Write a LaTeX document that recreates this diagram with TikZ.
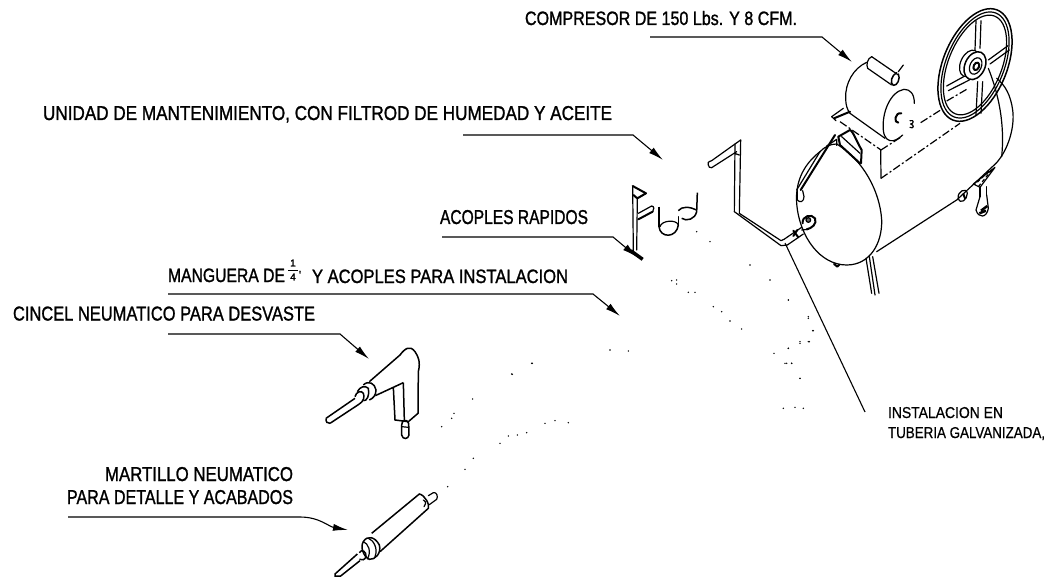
\documentclass[tikz,border=0pt]{standalone}
\usepackage{fontspec}
\usepackage{graphicx}
\setmainfont{Liberation Sans}
\newfontfamily\labfont[FakeBold=1.4]{Liberation Sans}
\newfontfamily\smallfont[FakeBold=0.7]{Liberation Sans}
\usetikzlibrary{arrows.meta}
\newcommand{\lab}[6]{\node[anchor=base west,inner sep=0pt,outer sep=0pt] (#1) at (#2,#3) {\resizebox{#4pt}{#5pt}{\labfont #6}};}
\newcommand{\thinlab}[6]{\node[anchor=base west,inner sep=0pt,outer sep=0pt] (#1) at (#2,#3) {\resizebox{#4pt}{#5pt}{\smallfont #6}};}
\tikzset{
  leader/.style={line width=1.1pt,black,-{Latex[length=15pt,width=7pt]}},
  part/.style={line width=1.2pt,black,line join=round,line cap=round},
  thickpart/.style={line width=2pt,black,line cap=round,line join=round},
  dashpart/.style={line width=1.2pt,black,dash pattern=on 8pt off 2.5pt on 2pt off 2.5pt},
  callout/.style={line width=1.1pt,black}
}
\begin{document}
\begin{tikzpicture}[x=1pt,y=-1pt]
\useasboundingbox (0,0) rectangle (1051,577);
% labels
\lab{tcomp}{525}{25}{272}{14}{COMPRESOR DE 150 Lbs. Y 8 CFM.}
\lab{tunid}{43}{120}{569}{14}{UNIDAD DE MANTENIMIENTO, CON FILTROD DE HUMEDAD Y ACEITE}
\lab{tacop}{440}{224}{148}{14}{ACOPLES RAPIDOS}
\lab{tmang}{168}{282}{117}{13.5}{MANGUERA DE}
\node[inner sep=0pt,font=\labfont\fontsize{10}{10}\selectfont] (tfa) at (293,263) {1};
\node[inner sep=0pt,font=\labfont\fontsize{10}{10}\selectfont] (tfb) at (293,277) {4};
\node[inner sep=0pt,font=\labfont\fontsize{12}{12}\selectfont] (tfc) at (300,275) {'};
\draw[line width=0.9pt] (288,270) -- (298,270);
\lab{tman2}{312}{283}{256}{13.5}{Y ACOPLES PARA INSTALACION}
\lab{tcinc}{13}{320.5}{302}{14}{CINCEL NEUMATICO PARA DESVASTE}
\lab{tmart}{105}{481}{188}{14}{MARTILLO NEUMATICO}
\lab{tpara}{67}{504}{226}{14}{PARA DETALLE Y ACABADOS}
\thinlab{tins}{888}{418}{115}{11}{INSTALACION EN}
\thinlab{ttub}{888}{438}{157}{11}{TUBERIA GALVANIZADA,}
% leaders
\coordinate (l1a) at (650,37); \coordinate (l1b) at (822,37); \coordinate (l1c) at (852,62);
\draw[leader] (l1a) -- (l1b) -- (l1c);
\coordinate (l2a) at (463,135); \coordinate (l2b) at (633,135); \coordinate (l2c) at (663,160);
\draw[leader] (l2a) -- (l2b) -- (l2c);
\coordinate (l3a) at (442,237); \coordinate (l3b) at (613,237); \coordinate (l3c) at (637,257);
\draw[leader] (l3a) -- (l3b) -- (l3c);
\coordinate (l4a) at (168,294); \coordinate (l4b) at (593,294); \coordinate (l4c) at (620,316);
\draw[leader] (l4a) -- (l4b) -- (l4c);
\coordinate (l5a) at (168,334); \coordinate (l5b) at (340,334); \coordinate (l5c) at (369,359);
\draw[leader] (l5a) -- (l5b) -- (l5c);
\coordinate (l6a) at (68,517); \coordinate (l6b) at (300,517); \coordinate (l6c) at (348,530);
\draw[leader] (l6a) -- (l6b) to[out=0,in=170] (l6c);
\coordinate (l7a) at (785,243); \coordinate (l7b) at (865,412);
\draw[callout] (l7a) -- (l7b);

% compressor and tank (zoom coordinates)
\begin{scope}[shift={(680,0)},x=0.33333pt,y=-0.33333pt]
  % tank body
  \draw[part] (420,455) .. controls (375,490) and (345,540) .. (350,610)
     .. controls (358,710) and (420,795) .. (500,795)
     .. controls (570,795) and (607,730) .. (605,660)
     .. controls (600,575) and (550,480) .. (470,432);
  \draw[part] (420,455) .. controls (435,440) and (450,432) .. (470,432);
  \draw[part] (590,755) -- (830,600) -- (948,490);
  \draw[part] (948,490) .. controls (985,450) and (1005,380) .. (998,330) .. controls (992,285) and (975,255) .. (950,235);
  \draw[part] (925,205) .. controls (955,280) and (975,370) .. (965,470);
  % base plate
  \draw[dashpart] (603,535) -- (840,370);
  \draw[dashpart] (603,450) -- (665,410);
  \draw[dashpart] (480,365) -- (603,450);
  \draw[part] (602,450) -- (603,535);
  \draw[part] (455,350) -- (490,325);
  \draw[part] (455,350) -- (468,362);
  % pipe on head
  \draw[thickpart] (362,570) -- (465,405);
  \draw[part] (350,570) -- (420,455);
  \draw[part] (352,572) -- (352,600) .. controls (360,610) and (372,605) .. (372,590) -- (368,572);
  \draw[part] (440,438) -- (470,418) -- (470,436);
  \draw[thickpart] (462,355) -- (510,335);
  % bracket
  \draw[thickpart] (475,410) -- (510,390) .. controls (520,395) and (530,425) .. (545,450) -- (543,490);
  \draw[thickpart] (475,410) -- (480,435) -- (540,490);
  \draw[part] (485,410) -- (540,460);
  % motor
  \draw[part] (560,187) .. controls (520,205) and (495,250) .. (497,295) .. controls (497,315) and (502,330) .. (510,340);
  \draw[part] (510,340) -- (615,415);
  \draw[part] (703,310) .. controls (703,280) and (690,268) .. (672,268) .. controls (630,275) and (605,340) .. (610,390) .. controls (612,415) and (625,425) .. (640,422) .. controls (650,420) and (660,412) .. (668,405);
  \draw[thickpart] (664,340) .. controls (645,335) and (640,370) .. (655,368);
  \draw[part] (690,362) .. controls (705,358) and (700,372) .. (692,372) .. controls (705,375) and (700,388) .. (690,382);
  % capacitor
  \draw[part] (575,170) -- (655,225);
  \draw[part] (563,205) -- (635,255);
  \draw[part] (575,170) .. controls (562,175) and (558,195) .. (563,205);
  \draw[part,line width=1.5pt] (650,218) .. controls (635,225) and (628,250) .. (640,256) .. controls (652,258) and (662,235) .. (655,222);
  \draw[part] (655,215) -- (670,195);
  % belt
  \draw[dashpart] (722,368) -- (785,328);
  \draw[dashpart] (800,303) -- (860,268);
  % flywheel
  \draw[line width=1.5pt,rotate around={68:(885,195)}] (885,195) ellipse (178 and 96);
  \draw[part,rotate around={68:(885,195)}] (885,195) ellipse (168 and 87);
  \draw[part,rotate around={68:(885,195)}] (885,195) ellipse (158 and 80);
  % spokes
  \draw[part] (888,62) -- (885,150); \draw[part] (903,62) -- (900,145);
  \draw[part] (893,245) -- (888,345); \draw[part] (908,245) -- (903,340);
  \draw[part] (925,180) -- (984,137); \draw[part] (930,192) -- (988,150);
  \draw[part] (800,258) -- (860,225); \draw[part] (805,272) -- (868,240);
  % hub
  \draw[part,fill=white,rotate around={65:(868,190)}] (868,190) ellipse (42 and 26);
  \draw[line width=1.5pt,fill=white,rotate around={65:(885,197)}] (885,197) ellipse (44 and 30);
  \draw[part,rotate around={65:(887,198)}] (887,198) ellipse (26 and 17);
  \draw[thickpart,rotate around={65:(889,199)}] (889,199) ellipse (12 and 8);
  % fitting
  \draw[thickpart] (368,670) .. controls (365,648) and (395,640) .. (405,655) .. controls (412,672) and (395,685) .. (380,688);
  \draw[part,fill=black!60] (385,660) circle (7);
  \draw[part] (365,690) -- (385,688);
  % connector to pipe
  \draw[part] (312,718) -- (365,682);
  \draw[part] (322,735) -- (370,702);
  \draw[thickpart] (340,692) -- (355,712);
  \draw[thickpart] (352,690) -- (340,708);
  % pipe
  \draw[part] (85,495) .. controls (80,490) and (85,485) .. (95,482) -- (165,432) -- (182,420);
  \draw[part] (95,503) .. controls (90,505) and (85,500) .. (85,495);
  \draw[part] (95,503) -- (170,455);
  \draw[part] (182,420) -- (178,640);
  \draw[part] (165,432) -- (163,635) -- (303,737) -- (322,735);
  \draw[part] (178,640) -- (303,722) -- (312,718);
  \draw[part] (163,460) -- (178,465);
  % small foot and leg
  \draw[part] (558,775) -- (575,880);
  \draw[part] (568,770) -- (585,885);
  \draw[part] (578,770) -- (597,880);
  \draw[thickpart] (462,792) -- (472,800) -- (478,794);
  % wheels and bracket
  \draw[part] (835,595) .. controls (830,575) and (860,560) .. (862,580) .. controls (862,600) and (840,615) .. (835,595);
  \draw[thickpart] (850,582) -- (855,595);
  \draw[part] (945,502) -- (900,562) -- (880,552) -- (945,502);
  \draw[part,dashed] (935,510) -- (895,560);
  \draw[part,dashed] (925,515) -- (885,553);
  \draw[part] (900,590) -- (888,630) .. controls (895,655) and (920,655) .. (925,625) -- (920,585);
  \draw[line width=2.5pt] (903,632) -- (922,618);
  \draw[line width=2.5pt] (898,640) -- (918,632);
  \draw[part] (900,562) -- (900,590);
  \draw[part] (920,560) -- (920,585);
\end{scope}

% filter unit
\begin{scope}[shift={(420,130)},x=0.33333pt,y=-0.33333pt]
  \draw[part] (638,170) -- (640,365);
  \draw[part] (652,205) -- (650,360);
  \draw[thickpart] (638,168) -- (678,190) -- (652,205) -- (640,195);
  \draw[part] (655,250) -- (695,228) .. controls (703,228) and (703,240) .. (698,245);
  \draw[thickpart] (655,268) -- (698,245);
  \draw[line width=3.5pt] (632,362) -- (668,388);
  \draw[line width=1.5pt] (717,230) -- (717,290);
  \draw[line width=1.5pt] (717,290) .. controls (720,325) and (770,325) .. (775,285);
  \draw[part] (720,290) .. controls (725,270) and (770,268) .. (775,285);
  \draw[part] (775,260) -- (775,285);
  \draw[line width=1.5pt] (832,188) -- (830,245) .. controls (825,268) and (800,275) .. (785,265);
  \draw[line width=1.5pt] (775,242) .. controls (785,228) and (810,230) .. (830,240);
\end{scope}

% chisel and hammer
\begin{scope}[shift={(280,330)},x=0.33333pt,y=-0.33333pt]
  % chisel
  \draw[line width=1.5pt] (138,265) -- (225,205);
  \draw[line width=1.5pt] (150,280) -- (238,222);
  \draw[line width=1.5pt] (138,265) .. controls (137,275) and (142,282) .. (150,280);
  \draw[line width=1.5pt] (225,200) .. controls (228,185) and (245,180) .. (250,190) .. controls (255,200) and (250,215) .. (238,222);
  \draw[line width=1.5pt] (232,185) .. controls (240,170) and (255,165) .. (265,175) .. controls (270,195) and (260,215) .. (250,212);
  \draw[line width=1.5pt] (250,165) .. controls (265,150) and (285,160) .. (288,180) .. controls (288,195) and (280,205) .. (268,210);
  \draw[line width=1.5pt] (268,155) -- (360,75) .. controls (375,55) and (390,45) .. (405,65) .. controls (415,80) and (422,95) .. (415,125) -- (414,250) -- (385,275) -- (345,270) -- (340,172) -- (370,158) -- (286,197);
  \draw[line width=1.5pt] (370,158) -- (373,270);
  \draw[line width=1.5pt] (365,285) -- (365,315) .. controls (368,330) and (385,328) .. (387,315) -- (386,280) .. controls (380,265) and (365,270) .. (365,285);
  \draw[part] (365,290) -- (386,292);
  % hammer
  \draw[line width=1.5pt] (275,610) -- (418,492) .. controls (435,495) and (450,525) .. (445,535) -- (300,665);
  \draw[part] (430,510) .. controls (440,515) and (438,525) .. (432,530);
  \draw[part] (445,497) -- (460,488) .. controls (470,485) and (475,500) .. (470,508) -- (448,524);
  \draw[line width=1.5pt] (250,635) .. controls (262,615) and (285,620) .. (298,645) .. controls (305,670) and (285,690) .. (268,688) .. controls (250,680) and (240,650) .. (250,635);
  \draw[part] (265,625) .. controls (280,630) and (295,655) .. (285,680);
  \draw[part] (250,635) .. controls (265,640) and (275,665) .. (262,687);
  \draw[line width=1.5pt] (238,668) .. controls (245,655) and (260,665) .. (258,680) .. controls (255,690) and (245,692) .. (238,688);
  \draw[line width=1.5pt] (232,672) -- (165,732) -- (165,738) -- (182,738) -- (240,692);
\end{scope}

% specks
\begin{scope}[shift={(420,130)},x=0.33333pt,y=-0.33333pt]
\foreach \p/\q in {870/335,990/405,755/452,770/450,770/462,805/487,825/487,1050/450,1105/510,880/530,905/545,930/573,965/597,1165/560,1180/602,1140/635,1165/635,1105/655,1062/670,1095/700,1115/700,570/660,625/663,335/700,275/732,1140/745,830/305}
  \fill (\p,\q) circle (2.4);
\end{scope}
\begin{scope}[shift={(280,330)},x=0.33333pt,y=-0.33333pt]
\foreach \p/\q in {757/100,697/133,578/207,522/250,515/265,485/290,795/280,825/272,865/278,740/308,712/315,685/318,660/340,580/385,555/418,503/470}
  \fill (\p,\q) circle (2.4);
\end{scope}
\begin{scope}[shift={(780,280)},x=0.33333pt,y=-0.33333pt]
\foreach \p/\q in {25/60,85/115,98/152,60/190,88/185,25/205,20/250,35/250,60/295,10/385,45/382,70/385}
  \fill (\p,\q) circle (2.4);
\end{scope}
\end{tikzpicture}
\end{document}
